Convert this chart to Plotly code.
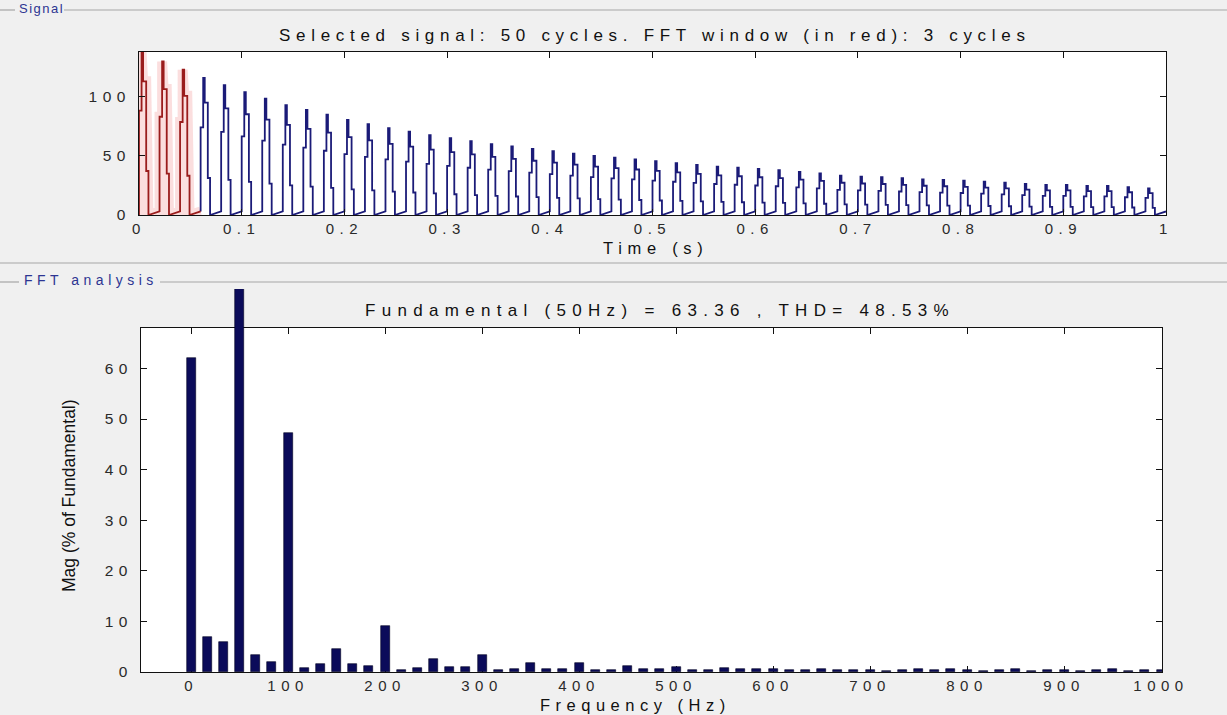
import plotly.graph_objects as go

# ---------------- data ----------------
cycle_period = 0.02          # s (50 Hz)
fft_window_cycles = 3
# peak of every one of the 50 current pulses (one per cycle)
cycle_peaks = [138, 130, 123, 116, 110, 104, 98.5, 93, 89, 85,
               80.5, 77, 73.5, 70.5, 67.5, 65, 62.5, 60, 58, 56,
               54, 52, 50, 48.5, 47, 45.5, 44, 42.5, 41, 40,
               39, 38, 36.5, 35.3, 33.3, 32.5, 32, 31.1, 30.2, 29.7,
               29.1, 28.2, 27.4, 26.3, 25.4, 25.4, 24.6, 24.6, 23.5, 22.6]
# staircase shape of one pulse: time offsets (s) and level as fraction of the peak
pulse_offsets = [0.0, 0.0025, 0.004, 0.007, 0.0092]
pulse_levels = [0.64, 1.0, 0.82, 0.27, 0.0]
baseline_ramp_top = 3.0

time_ticks = [0, 0.1, 0.2, 0.3, 0.4, 0.5, 0.6, 0.7, 0.8, 0.9, 1]
time_tick_labels = ["0", "0.1", "0.2", "0.3", "0.4", "0.5", "0.6", "0.7", "0.8", "0.9", "1"]
signal_yticks = [0, 50, 100]

freqs = [0, 16.67, 33.33, 50, 66.67, 83.33, 100, 116.67, 133.33, 150,
         166.67, 183.33, 200, 216.67, 233.33, 250, 266.67, 283.33, 300, 316.67,
         333.33, 350, 366.67, 383.33, 400, 416.67, 433.33, 450, 466.67, 483.33,
         500, 516.67, 533.33, 550, 566.67, 583.33, 600, 616.67, 633.33, 650,
         666.67, 683.33, 700, 716.67, 733.33, 750, 766.67, 783.33, 800, 816.67,
         833.33, 850, 866.67, 883.33, 900, 916.67, 933.33, 950, 966.67, 983.33, 1000]
mags = [62, 6.9, 6.0, 100, 3.4, 2.0, 47.2, 0.7, 1.6, 4.5,
        1.6, 1.2, 9.0, 0.35, 0.7, 2.6, 0.9, 0.9, 3.4, 0.3,
        0.5, 1.7, 0.6, 0.6, 1.7, 0.3, 0.4, 1.2, 0.6, 0.6,
        0.9, 0.3, 0.3, 0.8, 0.5, 0.5, 0.5, 0.3, 0.3, 0.6,
        0.3, 0.3, 0.4, 0.2, 0.3, 0.6, 0.3, 0.5, 0.4, 0.2,
        0.3, 0.5, 0.2, 0.3, 0.3, 0.2, 0.3, 0.5, 0.2, 0.3, 0.3]
freq_ticks = [0, 100, 200, 300, 400, 500, 600, 700, 800, 900, 1000]
mag_ticks = [0, 10, 20, 30, 40, 50, 60]

title_top = "Selected signal: 50 cycles. FFT window (in red): 3 cycles"
title_bottom = "Fundamental (50Hz) = 63.36 , THD= 48.53%"


def build_signal(k_list):
    xs, ys = [], []
    for k in k_list:
        t0 = k * cycle_period
        P = cycle_peaks[k]
        xs.append(t0)
        ys.append(0.0 if k == 0 else baseline_ramp_top)
        for i, (off, lv) in enumerate(zip(pulse_offsets, pulse_levels)):
            t = t0 + off
            if i > 0:
                xs.append(t)
                ys.append(ys[-1])
            xs.append(t)
            ys.append(lv * P)
        xs.append(t0 + cycle_period)
        ys.append(baseline_ramp_top)
    return xs, ys


red_x, red_y = build_signal(range(fft_window_cycles))
blue_x, blue_y = build_signal(range(fft_window_cycles, len(cycle_peaks)))

W, H = 1227, 715
FONT = "Liberation Sans, Arial, sans-serif"


def px(x):
    return x / W


def py(y):
    return 1 - y / H


def sp(text, ls):
    return '<span style="letter-spacing:%.1fpx">%s</span>' % (ls, text)


fig = go.Figure()

# glow of the FFT window
fig.add_trace(go.Scatter(x=red_x, y=red_y, mode="lines",
                         line=dict(color="rgba(235,90,90,0.2)", width=10),
                         hoverinfo="skip", showlegend=False, xaxis="x", yaxis="y"))
fig.add_trace(go.Scatter(x=blue_x, y=blue_y, mode="lines",
                         line=dict(color="#1b1b78", width=1.8),
                         showlegend=False, xaxis="x", yaxis="y"))
fig.add_trace(go.Scatter(x=red_x, y=red_y, mode="lines",
                         line=dict(color="#9a1c1c", width=1.8),
                         showlegend=False, xaxis="x", yaxis="y"))

# empty trace so that the framed x2/y2 subplot exists
fig.add_trace(go.Scatter(x=[], y=[], mode="lines", showlegend=False,
                         hoverinfo="skip", xaxis="x2", yaxis="y2"))
# bars on a taller invisible axis with the same scale, so the fundamental bar
# runs past the top of the frame as in the original
fig.add_trace(go.Bar(x=freqs, y=mags, width=9.3,
                     marker=dict(color="#0b0b5a", line=dict(color="#000020", width=0.6)),
                     showlegend=False, xaxis="x2", yaxis="y3"))

TICKFONT = dict(family=FONT, size=15.5, color="#2a2a2a")
XTICKFONT = dict(family=FONT, size=15, color="#2a2a2a")
axis_common = dict(showline=True, linecolor="#111", linewidth=1, mirror="ticks",
                   ticks="inside", ticklen=6, tickcolor="#111", showgrid=False,
                   zeroline=False, automargin=False)

LS_TICK = 5.5
bot_top_px, bot_bot_px, bar_top_px = 328, 672, 289
mag_range_top = 68
bar_axis_top = mag_range_top * (bot_bot_px - bar_top_px) / (bot_bot_px - bot_top_px)

fig.update_layout(
    width=W, height=H,
    margin=dict(l=0, r=0, t=0, b=0, pad=0, autoexpand=False),
    paper_bgcolor="#f0f0f0",
    plot_bgcolor="rgba(0,0,0,0)",
    xaxis=dict(domain=[px(139), px(1166)], range=[0, 1], anchor="y",
               tickvals=time_ticks, ticktext=[sp(t, LS_TICK) for t in time_tick_labels],
               ticklabelstandoff=0, tickfont=XTICKFONT, **axis_common),
    yaxis=dict(domain=[py(215), py(52)], range=[0, 138], anchor="x",
               tickvals=signal_yticks, ticktext=[sp(str(v), LS_TICK) for v in signal_yticks],
               ticklabelstandoff=4, tickfont=TICKFONT, **axis_common),
    xaxis2=dict(domain=[px(141), px(1162)], range=[-51.6, 1001], anchor="y2",
                tickvals=freq_ticks, ticktext=[sp(str(v), LS_TICK) for v in freq_ticks],
                ticklabelstandoff=0, tickfont=XTICKFONT, **axis_common),
    yaxis2=dict(domain=[py(bot_bot_px), py(bot_top_px)], range=[0, mag_range_top], anchor="x2",
                tickvals=mag_ticks, ticktext=[sp(str(v), LS_TICK) for v in mag_ticks],
                ticklabelstandoff=4, tickfont=TICKFONT, **axis_common),
    yaxis3=dict(domain=[py(bot_bot_px), py(bar_top_px)], range=[0, bar_axis_top],
                anchor="x2", visible=False, showgrid=False, zeroline=False),
    bargap=0,
)

ann = []


def add_ann(text, x, y, size, color="#111", xanchor="center", angle=0, family=FONT):
    ann.append(dict(text=text, x=px(x), y=py(y), xref="paper", yref="paper",
                    xanchor=xanchor, yanchor="middle", textangle=angle, showarrow=False,
                    font=dict(family=family, size=size, color=color)))


add_ann(sp(title_top, 5.7), 655, 36, 17)
add_ann(sp("Time (s)", 5.7), 655, 248, 16.5)
add_ann(sp(title_bottom, 6.3), 660, 311, 17)
add_ann(sp("Frequency (Hz)", 5.5), 635, 705, 16.5)
add_ann("Mag (% of Fundamental)", 69, 496, 17.5, angle=-90)
add_ann(sp("Signal", 1.5), 17, 8, 13, color="#2d3592", xanchor="left")
add_ann(sp("FFT analysis", 4.5), 22, 280, 14, color="#2d3592", xanchor="left")
fig.update_layout(annotations=ann)

line_col = "#a6a6a6"
shapes = [
    # white plotting areas
    dict(type="rect", xref="x domain", yref="y domain", x0=0, x1=1, y0=0, y1=1,
         fillcolor="white", line=dict(width=0), layer="below"),
    dict(type="rect", xref="x2 domain", yref="y2 domain", x0=0, x1=1, y0=0, y1=1,
         fillcolor="white", line=dict(width=0), layer="below"),
    # panel frames
    dict(type="line", xref="paper", yref="paper", x0=0, x1=px(15), y0=py(10), y1=py(10),
         line=dict(color=line_col, width=1.2)),
    dict(type="line", xref="paper", yref="paper", x0=px(64), x1=1, y0=py(10), y1=py(10),
         line=dict(color=line_col, width=1.2)),
    dict(type="line", xref="paper", yref="paper", x0=0, x1=1, y0=py(263), y1=py(263),
         line=dict(color=line_col, width=1.2)),
    dict(type="line", xref="paper", yref="paper", x0=0, x1=px(19), y0=py(282), y1=py(282),
         line=dict(color=line_col, width=1.2)),
    dict(type="line", xref="paper", yref="paper", x0=px(160), x1=1, y0=py(282), y1=py(282),
         line=dict(color=line_col, width=1.2)),
]
fig.update_layout(shapes=shapes)

fig.write_html("out.html",
               post_script="document.body.style.margin='0';"
                           "document.documentElement.style.overflow='hidden';")
